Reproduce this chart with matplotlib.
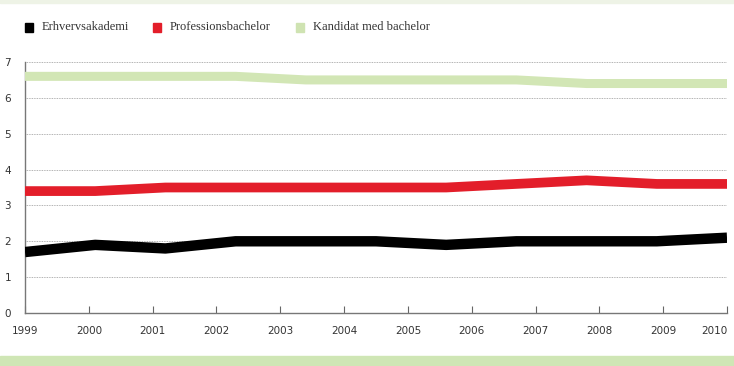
import numpy as np
import matplotlib
matplotlib.use('Agg')
from matplotlib import pyplot as plt
from matplotlib.patches import Rectangle

years = ['1999','2000','2001','2002','2003','2004','2005','2006','2007','2008','2009','2010']
erhverv = [1.7,1.9,1.8,2.0,2.0,2.0,1.9,2.0,2.0,2.0,2.1]
profbach = [3.4,3.4,3.5,3.5,3.5,3.5,3.5,3.6,3.7,3.6,3.6]
kandidat = [6.6,6.6,6.6,6.6,6.5,6.5,6.5,6.5,6.4,6.4,6.4]
names = ['Erhvervsakademi','Professionsbachelor','Kandidat med bachelor']
colour = ['#000000','#e31e2a','#d2e6b5']
widths = [7.5,7.0,6.5]

W, H = 734, 366
fig = plt.figure(figsize=(W/100, H/100), dpi=100)
ax = fig.add_axes([25/W, 1-313/H, (727-25)/W, (313-62)/H])

x = np.arange(len(erhverv))
for s, c, lw in zip([kandidat, profbach, erhverv], colour[::-1], widths[::-1]):
    ax.plot(x, s, color=c, linewidth=lw, solid_joinstyle='round', solid_capstyle='butt', zorder=3)

ax.set_xlim(0, len(erhverv)-1)
ax.set_ylim(0, 7)
ax.set_yticks(range(8))
ax.set_yticklabels([str(i) for i in range(8)], fontsize=7.5, color='#333333')
ax.tick_params(axis='y', length=0, pad=10)
ticks = np.linspace(0, len(erhverv)-1, len(years))
ax.set_xticks(ticks)
ax.set_xticklabels(years, fontsize=7.5, color='#333333')
ax.tick_params(axis='x', direction='in', length=5, width=0.8, color='#666666', pad=9)
ax.get_xticklabels()[-1].set_horizontalalignment('right')

for y in range(1, 8):
    ax.axhline(y, color='#999999', linewidth=0.6, linestyle=(0, (1, 1)), zorder=1)
for sp in ['top','right']:
    ax.spines[sp].set_visible(False)
for sp in ['left','bottom']:
    ax.spines[sp].set_color('#777777')
    ax.spines[sp].set_linewidth(1.0)

# legend
lx = [25, 153, 296]
for i in range(3):
    fig.patches.append(Rectangle((lx[i]/W, 1-31.5/H), 8/W, 8/H, transform=fig.transFigure,
                                 color=colour[i] if i < 2 else '#cfe3b2'))
    fig.text((lx[i]+17)/W, 1-27.5/H, names[i], fontsize=9, family='Liberation Serif',
             va='center', ha='left', color='#333333')

# bands
fig.patches.append(Rectangle((0, 1-3/H), 1, 3/H, transform=fig.transFigure, color='#eef3e6'))
fig.patches.append(Rectangle((0, 0), 1, 10/H, transform=fig.transFigure, color='#cfe6b5'))

fig.savefig('out.png', dpi=100)
